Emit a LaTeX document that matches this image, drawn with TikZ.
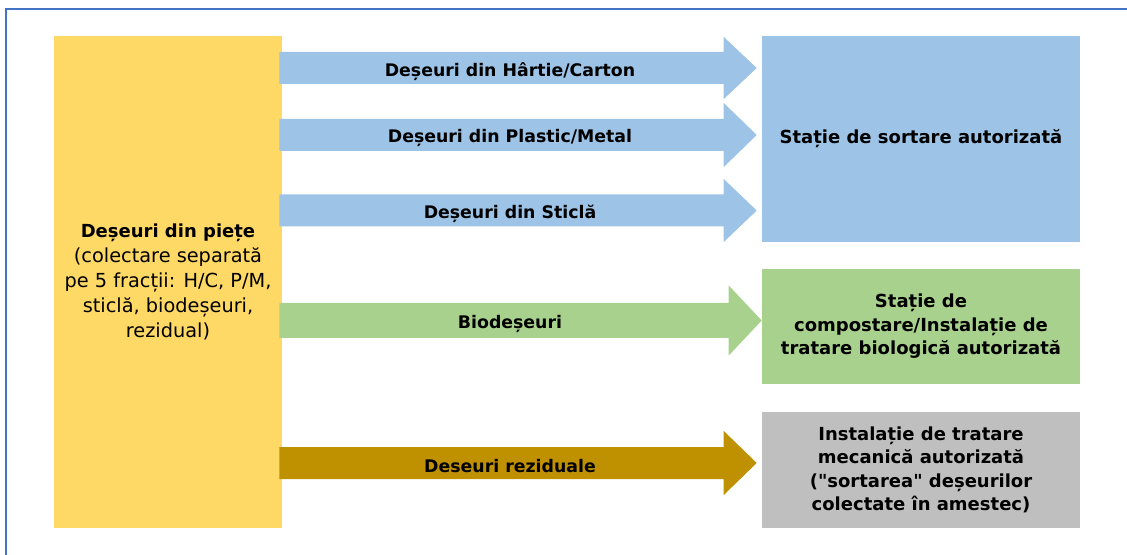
\documentclass[tikz,border=0pt]{standalone}
\usepackage{fontspec}
\setmainfont{DejaVu Sans}[Ligatures=TeXOff]
\usepackage{xcolor}
\usetikzlibrary{calc}

\definecolor{frameblue}{HTML}{4472C4}
\definecolor{srcyellow}{HTML}{FFD966}
\definecolor{sortblue}{HTML}{9DC3E6}
\definecolor{biogreen}{HTML}{A9D18E}
\definecolor{rezbrown}{HTML}{BF9000}
\definecolor{tmbgray}{HTML}{BFBFBF}

\tikzset{
	box/.style={inner sep=0pt, align=center, minimum width=238.5pt,
			font=\bfseries\fontsize{13.5}{17.6}\selectfont},
	lbl/.style={inner sep=0pt, yshift=-2.5pt, font=\bfseries\fontsize{13}{16}\selectfont}
}
\tikzstyle{frame} = [draw=frameblue, line width=1.6pt]

% block arrow: colour, from, to, shaft half width, head half width
\newcommand{\blockarrow}[5]{%
	\fill[#1] ($(#2)+(0,-#4)$) -- ($(#3)+(-33,-#4)$) -- ($(#3)+(-33,-#5)$) -- (#3)
		-- ($(#3)+(-33,#5)$) -- ($(#3)+(-33,#4)$) -- ($(#2)+(0,#4)$) -- cycle;}

\begin{document}
\begin{tikzpicture}[x=0.75pt, y=-0.75pt]
  \useasboundingbox (0,0) rectangle (1127,555);
  \draw[frame] (1127,9) -- (6,9) -- (6,555);

  % Nodes
  \node[box, fill=srcyellow, minimum width=171pt, minimum height=369pt,
        font=\fontsize{14.5}{18.75}\selectfont] (src) at (168,282)
    {{\bfseries\fontsize{13.5}{18.75}\selectfont Deșeuri din piețe}\\(colectare separată\\pe 5 fracții: H/C, P/M,\\sticlă, biodeșeuri,\\rezidual)};

  \node[box, fill=sortblue, minimum height=154.5pt] (sort) at (921,139)
    {Stație de sortare autorizată};
  \node[box, fill=biogreen, minimum height=86.25pt] (comp) at (921,326.5)
    {Stație de\\compostare/Instalație de\\tratare biologică autorizată};
  \node[box, fill=tmbgray, minimum height=87pt] (tmb) at (921,470)
    {Instalație de tratare\\mecanică autorizată\\("sortarea" deșeurilor\\colectate în amestec)};

  % Arrows
  \coordinate (hcA) at ($(src.east |- 0,68)+(-3,0)$);
  \coordinate (hcB) at ($(sort.west |- 0,68)+(-5,0)$);
  \blockarrow{sortblue}{hcA}{hcB}{16}{31}
  \node[lbl] (hcl) at (510,68) {Deșeuri din Hârtie/Carton};

  \coordinate (pmA) at ($(src.east |- 0,135)+(-3,0)$);
  \coordinate (pmB) at ($(sort.west |- 0,135)+(-5,0)$);
  \blockarrow{sortblue}{pmA}{pmB}{16}{32}
  \node[lbl] (pml) at (510,135) {Deșeuri din Plastic/Metal};

  \coordinate (stA) at ($(src.east |- 0,210.5)+(-3,0)$);
  \coordinate (stB) at ($(sort.west |- 0,210.5)+(-5,0)$);
  \blockarrow{sortblue}{stA}{stB}{16}{31.5}
  \node[lbl] (stl) at (510,210.5) {Deșeuri din Sticlă};

  \coordinate (bioA) at ($(src.east |- 0,320.5)+(-3,0)$);
  \coordinate (bioB) at (comp.west |- 0,320.5);
  \blockarrow{biogreen}{bioA}{bioB}{17.5}{35}
  \node[lbl] (biol) at (510,320.5) {Biodeșeuri};

  \coordinate (rezA) at ($(src.east |- 0,463)+(-3,0)$);
  \coordinate (rezB) at ($(tmb.west |- 0,463)+(-5,0)$);
  \blockarrow{rezbrown}{rezA}{rezB}{16}{32}
  \node[lbl] (rezl) at (510,463) {Deseuri reziduale};
\end{tikzpicture}
\end{document}
